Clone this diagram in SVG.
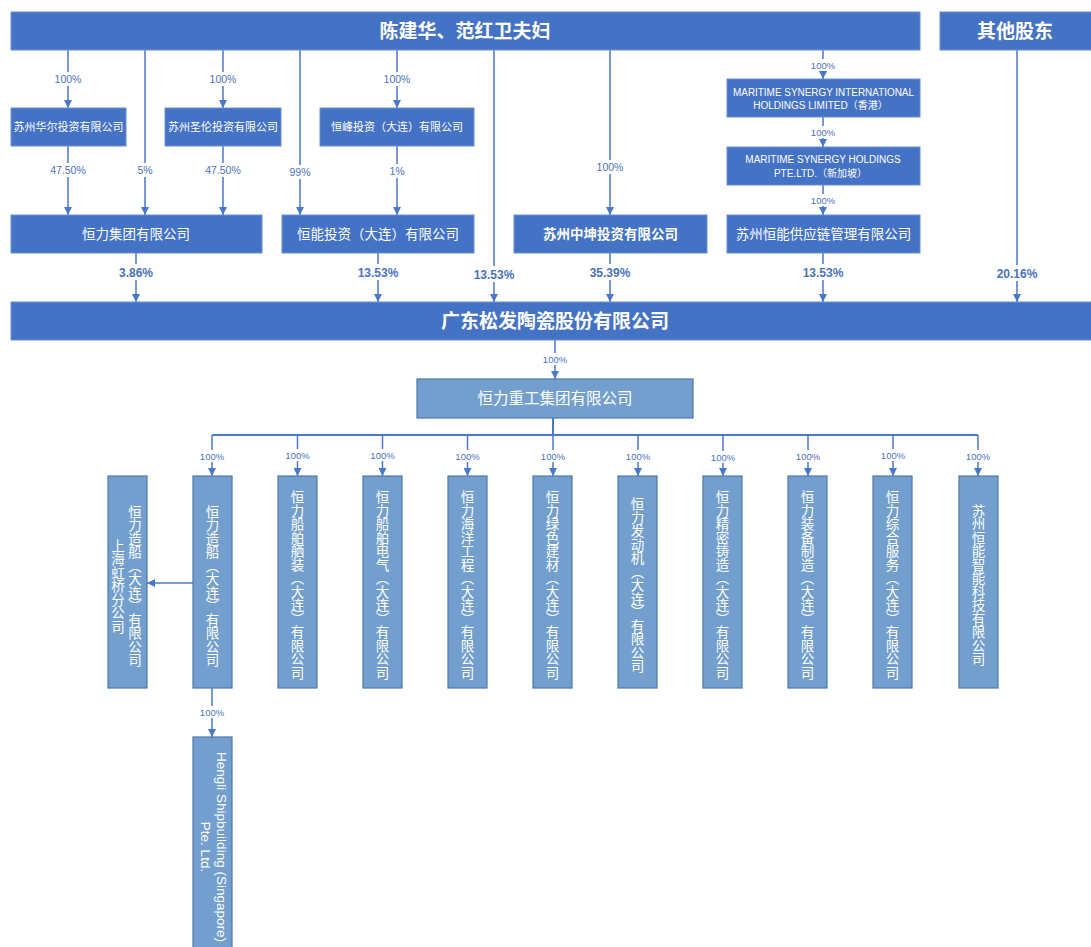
<svg xmlns="http://www.w3.org/2000/svg" width="1091" height="947" viewBox="0 0 1091 947">
<defs>
<marker id="ah" viewBox="0 0 10 10" refX="10" refY="5" markerWidth="8" markerHeight="8" markerUnits="userSpaceOnUse" orient="auto">
<path d="M0,0 L10,5 L0,10 z" fill="#4A78C8"/>
</marker>
<style>
.dk{fill:#4472C4;stroke:#6A8FD0;stroke-width:1}
.lt{fill:#739FCE;stroke:#4E78B0;stroke-width:1.2}
.t{font-family:"Noto Sans CJK SC","Liberation Sans",sans-serif;fill:#fff;text-anchor:middle}
.big{font-size:19px;font-weight:bold}
.mid{font-size:13.5px}
.sm{font-size:11px}
.en{font-family:"Liberation Sans","Noto Sans CJK SC",sans-serif;font-size:10px;fill:#fff;text-anchor:middle}
.v{font-family:"Noto Sans CJK SC",sans-serif;font-size:13.5px;fill:#fff;text-anchor:middle;writing-mode:vertical-rl}
.c{stroke:#4A78C8;stroke-width:1.5;fill:none;marker-end:url(#ah)}
.cl{stroke:#4A78C8;stroke-width:1.5;fill:none}
.p{font-family:"Liberation Sans",sans-serif;font-size:10.5px;fill:#4A72C0;text-anchor:middle}
.ps{font-family:"Liberation Sans",sans-serif;font-size:9.5px;fill:#4A72C0;text-anchor:middle}
.pb{font-family:"Liberation Sans",sans-serif;font-size:12px;font-weight:bold;fill:#4A72C0;text-anchor:middle}
.bg{fill:#fff}
</style>
</defs>
<rect width="1091" height="947" fill="#fff"/>

<g id="connectors">
<path class="c" d="M68,50 V108"/>
<path class="c" d="M145,50 V215"/>
<path class="c" d="M223,50 V108"/>
<path class="c" d="M300,50 V215"/>
<path class="c" d="M397,50 V108"/>
<path class="c" d="M494,50 V302"/>
<path class="c" d="M610,50 V215"/>
<path class="c" d="M823,50 V79"/>
<path class="c" d="M1017,50 V302"/>
<path class="c" d="M68,146 V215"/>
<path class="c" d="M223,146 V215"/>
<path class="c" d="M397,146 V215"/>
<path class="c" d="M823,117 V147"/>
<path class="c" d="M823,185 V215"/>
<path class="c" d="M136,253 V302"/>
<path class="c" d="M378,253 V302"/>
<path class="c" d="M610,253 V302"/>
<path class="c" d="M823,253 V302"/>
<path class="c" d="M555,340 V379"/>
<path class="cl" d="M553,418 V435 M212,435 H978" style="stroke-width:2"/>
<path class="c" d="M212,435 V476"/>
<path class="c" d="M297.5,435 V476"/>
<path class="c" d="M382.5,435 V476"/>
<path class="c" d="M467.5,435 V476"/>
<path class="c" d="M553,435 V476"/>
<path class="c" d="M638,435 V476"/>
<path class="c" d="M723,435 V476"/>
<path class="c" d="M808,435 V476"/>
<path class="c" d="M893,435 V476"/>
<path class="c" d="M978,435 V476"/>
<path class="c" d="M212,688 V737"/>
<path class="c" d="M193,583 H147"/>
<g id="labels">
<rect class="bg" x="52" y="72" width="32" height="14"/><text class="p" x="68" y="83">100%</text>
<rect class="bg" x="207" y="72" width="32" height="14"/><text class="p" x="223" y="83">100%</text>
<rect class="bg" x="381" y="72" width="32" height="14"/><text class="p" x="397" y="83">100%</text>
<rect class="bg" x="48" y="163" width="40" height="14"/><text class="p" x="68" y="174">47.50%</text>
<rect class="bg" x="203" y="163" width="40" height="14"/><text class="p" x="223" y="174">47.50%</text>
<rect class="bg" x="136" y="163" width="18" height="14"/><text class="p" x="145" y="174">5%</text>
<rect class="bg" x="289" y="165" width="22" height="14"/><text class="p" x="300" y="176">99%</text>
<rect class="bg" x="388" y="164" width="18" height="14"/><text class="p" x="397" y="175">1%</text>
<rect class="bg" x="594" y="160" width="32" height="14"/><text class="p" x="610" y="171">100%</text>
<rect class="bg" x="808" y="59" width="30" height="12"/><text class="ps" x="823" y="69">100%</text>
<rect class="bg" x="808" y="126" width="30" height="12"/><text class="ps" x="823" y="136">100%</text>
<rect class="bg" x="808" y="194" width="30" height="12"/><text class="ps" x="823" y="204">100%</text>
<rect class="bg" x="116" y="264" width="40" height="16"/><text class="pb" x="136" y="277">3.86%</text>
<rect class="bg" x="355" y="264" width="46" height="16"/><text class="pb" x="378" y="277">13.53%</text>
<rect class="bg" x="471" y="266" width="46" height="16"/><text class="pb" x="494" y="279">13.53%</text>
<rect class="bg" x="587" y="264" width="46" height="16"/><text class="pb" x="610" y="277">35.39%</text>
<rect class="bg" x="800" y="264" width="46" height="16"/><text class="pb" x="823" y="277">13.53%</text>
<rect class="bg" x="994" y="265" width="46" height="16"/><text class="pb" x="1017" y="278">20.16%</text>
<rect class="bg" x="541" y="353" width="28" height="12"/><text class="ps" x="555" y="363">100%</text>
<rect class="bg" x="198" y="450" width="28" height="12"/><text class="ps" x="212" y="460">100%</text>
<rect class="bg" x="283" y="449" width="28" height="12"/><text class="ps" x="297.5" y="459">100%</text>
<rect class="bg" x="368" y="449" width="28" height="12"/><text class="ps" x="382.5" y="459">100%</text>
<rect class="bg" x="453" y="450" width="28" height="12"/><text class="ps" x="467.5" y="460">100%</text>
<rect class="bg" x="539" y="450" width="28" height="12"/><text class="ps" x="553" y="460">100%</text>
<rect class="bg" x="624" y="450" width="28" height="12"/><text class="ps" x="638" y="460">100%</text>
<rect class="bg" x="709" y="451" width="28" height="12"/><text class="ps" x="723" y="461">100%</text>
<rect class="bg" x="794" y="450" width="28" height="12"/><text class="ps" x="808" y="460">100%</text>
<rect class="bg" x="879" y="449" width="28" height="12"/><text class="ps" x="893" y="459">100%</text>
<rect class="bg" x="964" y="450" width="28" height="12"/><text class="ps" x="978" y="460">100%</text>
<rect class="bg" x="198" y="706" width="28" height="12"/><text class="ps" x="212" y="716">100%</text>
</g>
</g>

<g id="n-founders"><rect class="dk" x="11" y="12" width="909" height="38"/><text class="t big" x="465" y="38">陈建华、范红卫夫妇</text></g>
<g id="n-others"><rect class="dk" x="940" y="12" width="152" height="38"/><text class="t big" x="1015" y="38">其他股东</text></g>

<g id="n-huaer"><rect class="dk" x="11" y="108" width="115" height="38"/><text class="t sm" x="68.5" y="131">苏州华尔投资有限公司</text></g>
<g id="n-shenglun"><rect class="dk" x="165" y="108" width="116" height="38"/><text class="t sm" x="223" y="131">苏州圣伦投资有限公司</text></g>
<g id="n-hengfeng"><rect class="dk" x="320" y="108" width="154" height="38"/><text class="t sm" x="397" y="131">恒峰投资（大连）有限公司</text></g>
<g id="n-msi"><rect class="dk" x="727" y="79" width="193" height="38"/>
<text class="en" x="823.5" y="96" textLength="181" lengthAdjust="spacingAndGlyphs">MARITIME  SYNERGY INTERNATIONAL</text>
<text class="en" x="820.5" y="109">HOLDINGS  LIMITED（香港）</text></g>
<g id="n-msh"><rect class="dk" x="727" y="147" width="193" height="38"/>
<text class="en" x="823" y="163">MARITIME  SYNERGY HOLDINGS</text>
<text class="en" x="820.5" y="177">PTE.LTD.（新加坡）</text></g>

<g id="n-hengli"><rect class="dk" x="11" y="215" width="251" height="38"/><text class="t mid" x="136" y="239">恒力集团有限公司</text></g>
<g id="n-hengneng"><rect class="dk" x="282" y="215" width="192" height="38"/><text class="t mid" x="378" y="239">恒能投资（大连）有限公司</text></g>
<g id="n-zhongkun"><rect class="dk" x="514" y="215" width="193" height="38"/><text class="t mid" x="610.5" y="239" font-weight="bold">苏州中坤投资有限公司</text></g>
<g id="n-supply"><rect class="dk" x="727" y="215" width="193" height="38"/><text class="t mid" x="823.5" y="239">苏州恒能供应链管理有限公司</text></g>

<g id="n-songfa"><rect class="dk" x="11" y="302" width="1081" height="38"/><text class="t big" x="555" y="328">广东松发陶瓷股份有限公司</text></g>
<g id="n-heavy"><rect class="lt" x="417" y="379" width="276" height="39"/><text class="t" x="555" y="404" style="font-size:15.5px">恒力重工集团有限公司</text></g>

<g id="n-shanghai"><rect class="lt" x="108" y="476" width="39" height="212"/>
<text class="v" x="135" y="586">恒力造船（大连）有限公司</text>
<text class="v" x="118" y="586">上海虹桥分公司</text></g>
<g id="n-ship"><rect class="lt" x="193" y="476" width="39" height="212"/><text class="v" x="212.5" y="586">恒力造船（大连）有限公司</text></g>
<g id="n-outfit"><rect class="lt" x="278" y="476" width="39" height="212"/><text class="v" x="297.5" y="585">恒力船舶舾装（大连）有限公司</text></g>
<g id="n-elec"><rect class="lt" x="363" y="476" width="39" height="212"/><text class="v" x="382.5" y="585">恒力船舶电气（大连）有限公司</text></g>
<g id="n-ocean"><rect class="lt" x="448" y="476" width="39" height="212"/><text class="v" x="467.5" y="585">恒力海洋工程（大连）有限公司</text></g>
<g id="n-green"><rect class="lt" x="533" y="476" width="39" height="212"/><text class="v" x="552.5" y="585">恒力绿色建材（大连）有限公司</text></g>
<g id="n-engine"><rect class="lt" x="618" y="476" width="39" height="212"/><text class="v" x="637.5" y="585">恒力发动机（大连）有限公司</text></g>
<g id="n-cast"><rect class="lt" x="703" y="476" width="39" height="212"/><text class="v" x="722.5" y="585">恒力精密铸造（大连）有限公司</text></g>
<g id="n-equip"><rect class="lt" x="788" y="476" width="39" height="212"/><text class="v" x="807.5" y="585">恒力装备制造（大连）有限公司</text></g>
<g id="n-service"><rect class="lt" x="873" y="476" width="39" height="212"/><text class="v" x="892.5" y="585">恒力综合服务（大连）有限公司</text></g>
<g id="n-smart"><rect class="lt" x="959" y="476" width="39" height="212"/><text class="v" x="978.5" y="585">苏州恒能智能科技有限公司</text></g>

<g id="n-singapore"><rect class="lt" x="193" y="737" width="39" height="215"/>
<text font-family="Liberation Sans, sans-serif" font-size="13.5" fill="#fff" text-anchor="middle" dominant-baseline="central" transform="translate(221,847) rotate(90)">Hengli Shipbuilding (Singapore)</text>
<text font-family="Liberation Sans, sans-serif" font-size="13.5" fill="#fff" text-anchor="middle" dominant-baseline="central" transform="translate(205,847) rotate(90)">Pte. Ltd.</text></g>
</svg>
